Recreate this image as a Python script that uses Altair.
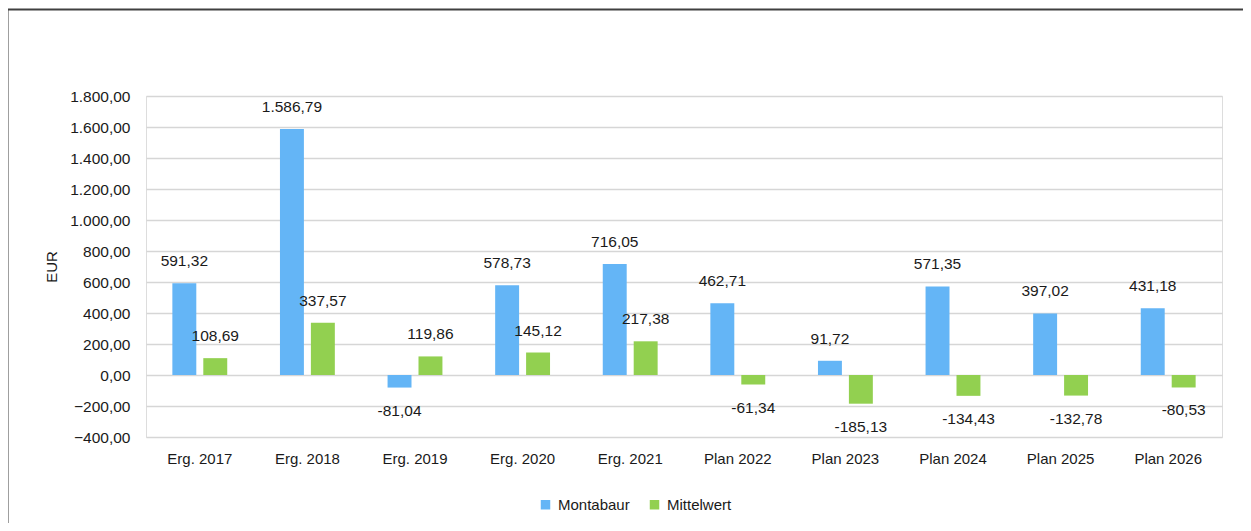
import altair as alt
import pandas as pd

categories = ["Erg. 2017", "Erg. 2018", "Erg. 2019", "Erg. 2020", "Erg. 2021",
              "Plan 2022", "Plan 2023", "Plan 2024", "Plan 2025", "Plan 2026"]
montabaur = [591.32, 1586.79, -81.04, 578.73, 716.05, 462.71, 91.72, 571.35, 397.02, 431.18]
mittelwert = [108.69, 337.57, 119.86, 145.12, 217.38, -61.34, -185.13, -134.43, -132.78, -80.53]
series = ["Montabaur", "Mittelwert"]
colors = ["#64B5F6", "#92D050"]
y_ticks = list(range(-400, 1801, 200))


def fmt(v):
    s = f"{v:,.2f}"
    return s.replace(",", "#").replace(".", ",").replace("#", ".")


rows = []
for i, c in enumerate(categories):
    for s, vals in zip(series, [montabaur, mittelwert]):
        rows.append({"cat": c, "series": s, "value": vals[i], "label": fmt(vals[i])})
df = pd.DataFrame(rows)

FONT = "Liberation Sans"
TXT = "#1a1a1a"

x_enc = alt.X("cat:N", sort=categories, title=None,
              scale=alt.Scale(paddingInner=0.49, paddingOuter=0.245),
              axis=alt.Axis(labelAngle=0, ticks=False, domain=False, grid=False,
                            labelFontSize=15, labelColor=TXT, labelPadding=14,
                            labelFont=FONT))
xo_enc = alt.XOffset("series:N", sort=series,
                     scale=alt.Scale(paddingInner=0.226, paddingOuter=0))
y_enc = alt.Y("value:Q", title="EUR",
              scale=alt.Scale(domain=[-400, 1800], nice=False, zero=False),
              axis=alt.Axis(values=y_ticks, ticks=False, domain=False,
                            grid=True, gridColor="#d6d6d6", gridWidth=1.6,
                            labelFontSize=15.5, labelColor=TXT, labelPadding=16,
                            labelFont=FONT, titleFont=FONT, titleFontSize=15,
                            titleFontWeight="normal", titleColor=TXT, titlePadding=10,
                            labelExpr="replace(replace(replace(format(datum.value, ',.2f'), ',', '#'), '.', ','), '#', '.')"))

base = alt.Chart(df)

bars = base.mark_bar().encode(
    x=x_enc, xOffset=xo_enc, y=y_enc,
    color=alt.Color("series:N", sort=series,
                    scale=alt.Scale(domain=series, range=colors),
                    legend=alt.Legend(title=None, orient="none", direction="horizontal",
                                      legendX=392, legendY=401,
                                      symbolType="square", symbolSize=90,
                                      symbolStrokeWidth=0,
                                      labelFontSize=15, labelFont=FONT, labelColor=TXT,
                                      labelOffset=5, columnPadding=17)),
)

pos_labels = base.transform_filter("datum.value >= 0").mark_text(
    dy=-22, fontSize=15.5, font=FONT, color=TXT, baseline="middle").encode(
    x=x_enc, xOffset=xo_enc, y=y_enc, text="label:N")

neg_labels = base.transform_filter("datum.value < 0").mark_text(
    dy=23, fontSize=15.5, font=FONT, color=TXT, baseline="middle").encode(
    x=x_enc, xOffset=xo_enc, y=y_enc, text="label:N")

frame_df = pd.DataFrame({"k": [0]})
top_line = alt.Chart(frame_df).mark_rule(color="#404040", strokeWidth=2).encode(
    x=alt.value(-138.5), x2=alt.value(1100), y=alt.value(-86.5))
left_line = alt.Chart(frame_df).mark_rule(color="#404040", strokeWidth=2).encode(
    x=alt.value(-138.5), y=alt.value(-86.5), y2=alt.value(430))

chart = alt.layer(bars, pos_labels, neg_labels, top_line, left_line).properties(
    width=1076, height=341,
    autosize=alt.AutoSizeParams(type="none"),
    padding={"left": 138, "top": 88, "right": 21, "bottom": 86},
).configure_view(stroke=None).configure(font=FONT)

chart.save("out.html", embed_options={"renderer": "svg", "actions": False})
